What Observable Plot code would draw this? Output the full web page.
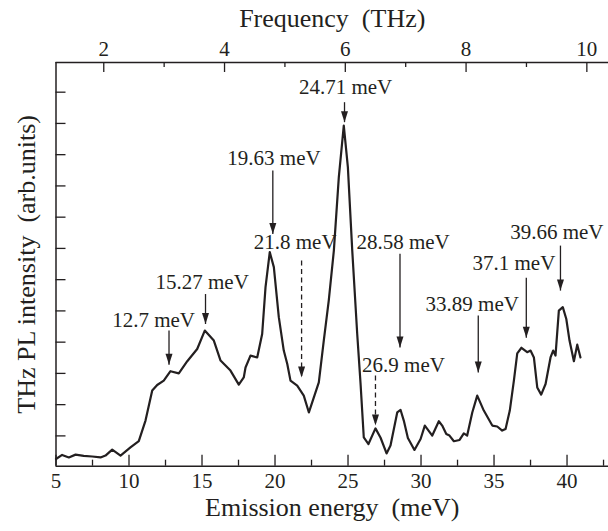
<!DOCTYPE html>
<html><head><meta charset="utf-8">
<script src="https://cdn.jsdelivr.net/npm/d3@7"></script>
<script src="https://cdn.jsdelivr.net/npm/@observablehq/plot@0.6"></script>
<style>html,body{margin:0;padding:0;background:#fff} svg text{font-family:"Liberation Serif","DejaVu Serif",serif !important}</style>
</head><body><div id="chart"></div>
<script>
// Emission energy (meV) and THz PL intensity (arb. units)
const energy = [5.0, 5.42, 5.88, 6.34, 6.90, 7.48, 8.05, 8.39, 8.85, 9.42,
  10.10, 10.67, 11.13, 11.59, 11.93, 12.38, 12.84, 13.41, 13.99, 14.67,
  15.19, 15.81, 16.27, 16.95, 17.52, 17.86, 17.98, 18.32, 18.78, 19.12,
  19.35, 19.64, 19.92, 20.26, 20.60, 20.84, 21.06, 21.52, 21.97, 22.32,
  23.00, 23.34, 23.68, 24.03, 24.37, 24.71, 24.99, 25.29, 25.63, 25.86,
  26.08, 26.40, 26.88, 27.23, 27.64, 27.91, 28.37, 28.60, 28.82, 29.10,
  29.55, 29.97, 30.26, 30.77, 31.22, 31.45, 31.73, 31.95, 32.25, 32.64,
  32.93, 33.16, 33.51, 33.85, 34.30, 34.88, 35.22, 35.56, 35.79, 36.08,
  36.36, 36.59, 36.88, 37.27, 37.50, 37.73, 37.96, 38.23, 38.53, 38.87,
  39.05, 39.21, 39.44, 39.71, 39.95, 40.17, 40.47, 40.70, 40.92];
const intensity = [0.26, 0.39, 0.31, 0.40, 0.36, 0.34, 0.31, 0.37, 0.56, 0.37,
  0.63, 0.83, 1.49, 2.45, 2.63, 2.77, 3.07, 3.00, 3.39, 3.78,
  4.37, 4.05, 3.41, 3.09, 2.64, 2.87, 3.19, 3.57, 3.51, 4.26,
  5.76, 6.88, 6.40, 4.80, 3.73, 3.30, 2.77, 2.61, 2.29, 1.75,
  2.71, 4.05, 5.33, 6.93, 9.28, 10.93, 9.60, 6.93, 4.26, 2.66,
  0.95, 0.74, 1.24, 0.94, 0.44, 0.69, 1.75, 1.83, 1.49, 0.93,
  0.55, 0.90, 1.33, 1.01, 1.47, 1.33, 1.06, 1.01, 0.83, 0.87,
  1.08, 1.01, 1.75, 2.29, 1.81, 1.33, 1.30, 1.17, 1.22, 1.81,
  2.77, 3.64, 3.82, 3.68, 3.73, 3.51, 2.55, 2.32, 2.66, 3.51,
  3.73, 3.57, 5.01, 5.12, 4.74, 4.05, 3.39, 3.92, 3.51];

// Peak annotations
const peakLabels = ["12.7 meV", "15.27 meV", "19.63 meV", "24.71 meV", "21.8 meV",
  "28.58 meV", "26.9 meV", "33.89 meV", "37.1 meV", "39.66 meV"];
const arrowX   = [12.74, 15.24, 19.85, 24.76, 21.82, 28.56, 26.88, 33.92, 37.21, 39.55];
const arrowTop = [4.37, 5.54, 9.49, 11.68, 6.61, 6.83, 2.93, 4.85, 6.06, 7.09];
const arrowTip = [3.28, 4.58, 7.46, 11.04, 2.87, 3.83, 1.33, 3.03, 4.14, 5.65];
const arrowDashed = [false, false, false, false, true, false, true, false, false, false];
const labelX = [11.68, 15.01, 19.93, 24.83, 21.38, 28.77, 28.80, 33.51, 36.36, 39.30];
const labelY = [4.71, 5.92, 9.89, 12.16, 7.20, 7.20, 3.25, 5.22, 6.53, 7.52];

// Axes
const energyTicks = [5, 10, 15, 20, 25, 30, 35, 40];
const energyMinorTicks = [7.5, 12.5, 17.5, 22.5, 27.5, 32.5, 37.5, 42.5];
const freqTicks = [2, 4, 6, 8, 10];
const freqMinorTicks = [3, 5, 7, 9];
const intensityTicks = [1, 2, 3, 4, 5, 6, 7, 8, 9, 10, 11, 12];
const THZ_TO_MEV = 4.1357;
const xDomain = [5, 42.84];
const yDomain = [0.03, 12.95];

const xTitle = "Emission energy\u00a0 (meV)";
const x2Title = "Frequency\u00a0 (THz)";
const yTitle = "THz PL intensity\u00a0 (arb.units)";

const curve = energy.map((e, i) => ({e, v: intensity[i]}));
const notes = peakLabels.map((t, i) => ({t, ax: arrowX[i], top: arrowTop[i], tip: arrowTip[i],
  dashed: arrowDashed[i], lx: labelX[i], ly: labelY[i]}));

const W = 608, H = 531, mL = 55.5, mR = 0, mT = 62, mB = 65.3;
const fw = W - mL - mR, fh = H - mT - mB;
const ink = "#231f20";
const serif = "Liberation Serif, DejaVu Serif, serif";
const arrowHead = {draw(ctx) { ctx.moveTo(0, 0); ctx.lineTo(-3.5, -11); ctx.lineTo(3.5, -11); ctx.closePath(); }};

const chart = Plot.plot({
  width: W, height: H,
  marginLeft: mL, marginRight: mR, marginTop: mT, marginBottom: mB,
  x: {domain: xDomain},
  y: {domain: yDomain, axis: null},
  style: {fontFamily: serif, fontSize: "21px", color: ink, background: "#fff"},
  marks: [
    // frame sides
    Plot.ruleX([xDomain[0]], {stroke: ink, strokeWidth: 1.5}),
    Plot.ruleY([yDomain[0]], {stroke: ink, strokeWidth: 1.5}),
    Plot.ruleY([yDomain[1]], {stroke: ink, strokeWidth: 1.5}),
    // inward ticks
    Plot.tickX(energyTicks, {x: d => d, insetTop: fh - 11, stroke: ink, strokeWidth: 1.3}),
    Plot.tickX(energyMinorTicks, {x: d => d, insetTop: fh - 6, stroke: ink, strokeWidth: 1.3}),
    Plot.tickX(freqTicks, {x: d => d * THZ_TO_MEV, insetBottom: fh - 10, stroke: ink, strokeWidth: 1.3}),
    Plot.tickX(freqMinorTicks, {x: d => d * THZ_TO_MEV, insetBottom: fh - 5, stroke: ink, strokeWidth: 1.3}),
    Plot.tickY(intensityTicks, {y: d => d, insetRight: fw - 10, stroke: ink, strokeWidth: 1.3}),
    // tick labels
    Plot.axisX({anchor: "bottom", ticks: energyTicks, tickSize: 0, tickPadding: 7, label: null, fill: ink, fontFamily: serif, fontSize: 21}),
    Plot.axisX({anchor: "top", ticks: freqTicks.map(f => f * THZ_TO_MEV), tickFormat: d => String(Math.round(d / THZ_TO_MEV)),
      tickSize: 0, tickPadding: 7, label: null, fill: ink, fontFamily: serif, fontSize: 21}),
    // titles
    Plot.text([xTitle], {text: d => d, frameAnchor: "bottom", lineAnchor: "middle", textAnchor: "middle", dy: 41, fontSize: 26, fontFamily: serif, fill: ink}),
    Plot.text([x2Title], {text: d => d, frameAnchor: "top", lineAnchor: "middle", textAnchor: "middle", dy: -44, fontSize: 26, fontFamily: serif, fill: ink}),
    Plot.text([yTitle], {text: d => d, frameAnchor: "left", lineAnchor: "middle", textAnchor: "middle", dx: -29, rotate: -90, fontSize: 26, fontFamily: serif, fill: ink}),
    // curve
    Plot.line(curve, {x: "e", y: "v", stroke: ink, strokeWidth: 2.2, strokeLinejoin: "round"}),
    // arrows
    Plot.link(notes.filter(d => !d.dashed), {x1: "ax", x2: "ax", y1: "top", y2: "tip", stroke: ink, strokeWidth: 1.3}),
    Plot.link(notes.filter(d => d.dashed), {x1: "ax", x2: "ax", y1: "top", y2: "tip", stroke: ink, strokeWidth: 1.3, strokeDasharray: "5,3.5"}),
    Plot.dot(notes, {x: "ax", y: "tip", symbol: arrowHead, fill: ink, stroke: "none"}),
    Plot.text(notes, {x: "lx", y: "ly", text: "t", fontSize: 21, fontFamily: serif, fill: ink})
  ]
});
document.getElementById("chart").appendChild(chart);
</script>
</body></html>
